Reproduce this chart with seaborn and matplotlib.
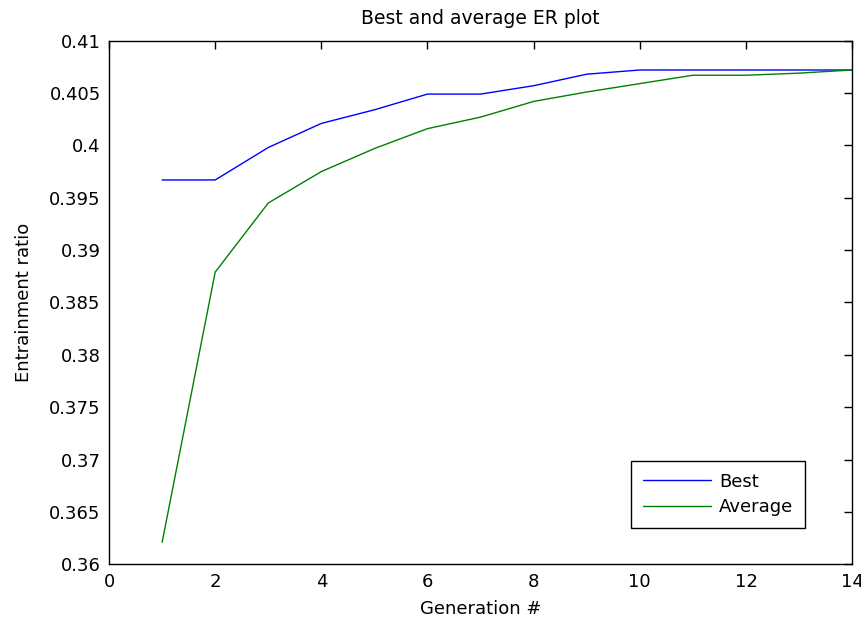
import matplotlib
matplotlib.use('Agg')
import matplotlib.pyplot as plt
import seaborn as sns

# values
generation = [1, 2, 3, 4, 5, 6, 7, 8, 9, 10, 11, 12, 13, 14]
best = [0.3967, 0.3967, 0.3998, 0.4021, 0.4034, 0.4049, 0.4049, 0.4057, 0.4068, 0.4072,
        0.4072, 0.4072, 0.4072, 0.4072]
average = [0.3621, 0.3879, 0.3945, 0.3975, 0.3997, 0.4016, 0.4027, 0.4042, 0.4051, 0.4059,
           0.4067, 0.4067, 0.4069, 0.4072]
xticks = [0, 2, 4, 6, 8, 10, 12, 14]
yticks = [0.36, 0.365, 0.37, 0.375, 0.38, 0.385, 0.39, 0.395, 0.4, 0.405, 0.41]
ytick_labels = ['0.36', '0.365', '0.37', '0.375', '0.38', '0.385', '0.39', '0.395', '0.4', '0.405', '0.41']

sns.set_style('white')
plt.rcParams['font.family'] = ['DejaVu Sans']
plt.rcParams['font.size'] = 13
plt.rcParams['text.color'] = 'black'
plt.rcParams['axes.labelcolor'] = 'black'

fig = plt.figure(figsize=(8.62, 6.22), dpi=100)
ax = fig.add_axes([0.1265, 0.0928, 0.8620, 0.8418])

sns.lineplot(x=generation, y=best, ax=ax, color='#0000ff', linewidth=1.0, label='Best')
sns.lineplot(x=generation, y=average, ax=ax, color='#008000', linewidth=1.0, label='Average')

ax.set_xlim(0, 14)
ax.set_ylim(0.36, 0.41)
ax.set_xticks(xticks)
ax.set_yticks(yticks)
ax.set_yticklabels(ytick_labels)
ax.tick_params(direction='in', length=6, width=1, top=True, right=True,
               labelsize=13, pad=6, colors='black')
for s in ax.spines.values():
    s.set_visible(True)
    s.set_color('black')
    s.set_linewidth(1.0)

ax.set_title('Best and average ER plot', fontsize=13.5, pad=12)
ax.set_xlabel('Generation #', fontsize=13, labelpad=7)
ax.set_ylabel('Entrainment ratio', fontsize=13, labelpad=12)

leg = ax.legend(loc='lower right', bbox_to_anchor=(0.937, 0.07), fontsize=13,
                frameon=True, fancybox=False, edgecolor='black', framealpha=1,
                handlelength=3.8, handletextpad=0.45, borderpad=0.65, labelspacing=0.4,
                borderaxespad=0)
leg.get_frame().set_linewidth(1.0)

fig.savefig('out.png', dpi=100)
